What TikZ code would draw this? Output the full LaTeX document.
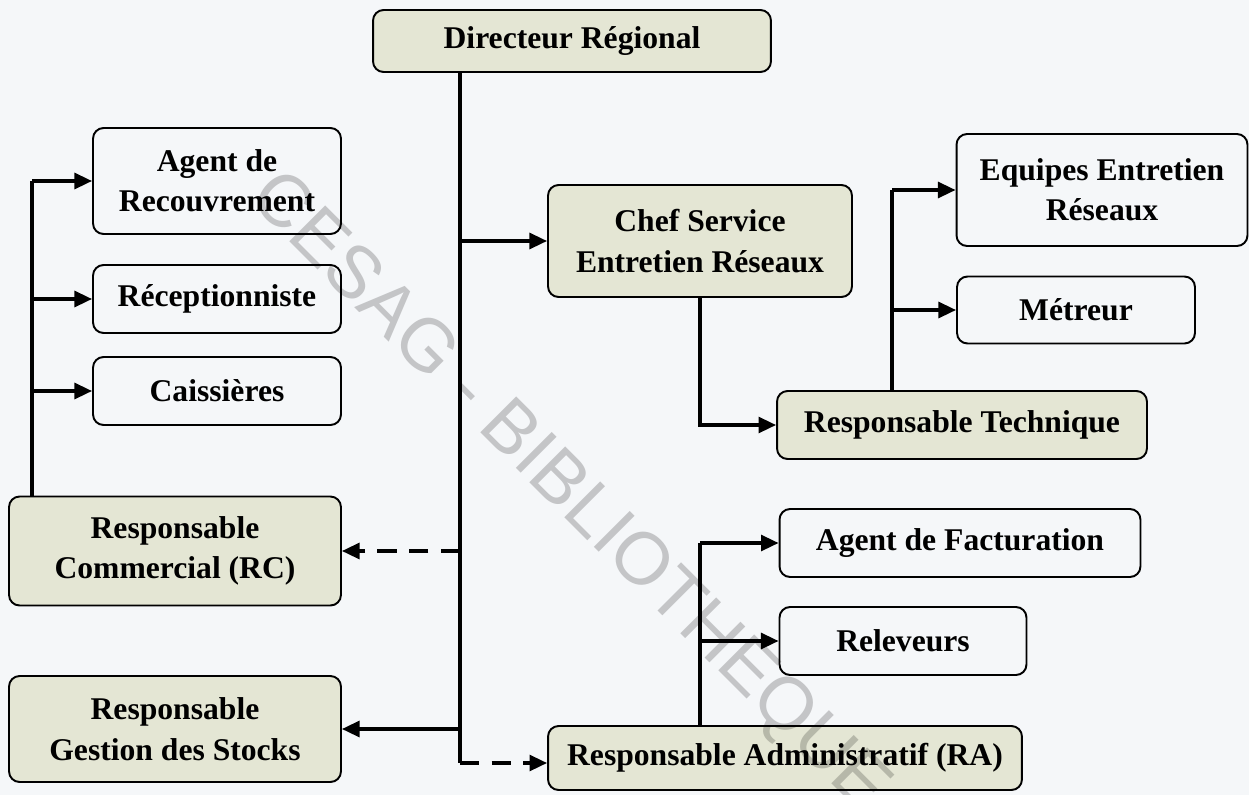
\documentclass[tikz,border=0pt]{standalone}
\usepackage{fontspec}
\setmainfont{Liberation Serif}
\setsansfont{Liberation Sans}
\usetikzlibrary{calc, arrows.meta}

\definecolor{boxfill}{RGB}{228,230,212}
\definecolor{paper}{RGB}{245,247,249}
\definecolor{wmark}{RGB}{204,204,204}

\tikzset{
  poste/.style={draw, rounded corners=6pt, line width=1.1pt, align=center,
    font=\fontsize{18}{23}\selectfont\bfseries, inner sep=2pt},
  chef/.style={poste, fill=boxfill},
  agent/.style={poste},
  lien/.style={line width=1.9pt},
  fleche/.style={lien, -{Triangle[length=10pt, width=9pt]}},
  pointille/.style={fleche, dash pattern=on 11pt off 7pt},
}

\begin{document}
\begin{tikzpicture}[x=0.02cm, y=-0.02cm]
  \fill[paper] (0,0) rectangle (1249,795);
  \useasboundingbox (0,0) rectangle (1249,795);

  % direction et responsables
  \node[chef, minimum width=7.96cm, minimum height=1.24cm] (dr) at (572,41) {Directeur Régional};
  \node[chef, minimum width=6.08cm, minimum height=2.24cm] (cser) at (700,241) {Chef Service\\Entretien Réseaux};
  \node[chef, minimum width=6.64cm, minimum height=2.18cm] (rc) at (175,551) {Responsable\\Commercial (RC)};
  \node[chef, minimum width=6.64cm, minimum height=2.12cm] (rgs) at (175,729) {Responsable\\Gestion des Stocks};
  \node[chef, minimum width=7.40cm, minimum height=1.36cm] (rt) at (962,425) {Responsable Technique};
  \node[chef, minimum width=9.48cm, minimum height=1.28cm] (ra) at (785,758) {Responsable Administratif (RA)};

  % agents
  \node[agent, minimum width=4.96cm, minimum height=2.12cm] (recouv) at (217,181) {Agent de\\Recouvrement};
  \node[agent, minimum width=4.96cm, minimum height=1.36cm] (recep) at (217,299) {Réceptionniste};
  \node[agent, minimum width=4.96cm, minimum height=1.36cm] (caiss) at (217,391) {Caissières};
  \node[agent, minimum width=5.82cm, minimum height=2.24cm] (equip) at (1102,190) {Equipes Entretien\\Réseaux};
  \node[agent, minimum width=4.76cm, minimum height=1.34cm] (metreur) at (1076,310) {Métreur};
  \node[agent, minimum width=7.22cm, minimum height=1.36cm] (factu) at (960,543) {Agent de Facturation};
  \node[agent, minimum width=4.94cm, minimum height=1.36cm] (relev) at (903,641) {Releveurs};

  \coordinate (T) at (460,763);
  \coordinate (L) at (32,0);
  \coordinate (M) at (892,0);
  \coordinate (N) at (700,0);

  % tronc du directeur
  \draw[lien] (T |- dr.south) -- (T);
  \draw[pointille] (T) -- (T -| ra.west);
  \draw[fleche] (T |- cser.west) -- (cser.west);
  \draw[pointille] (T |- rc.east) -- (rc.east);
  \draw[fleche] (T |- rgs.east) -- (rgs.east);

  % service commercial
  \draw[lien] (L |- rc.north) -- (L |- recouv.west);
  \draw[fleche] (L |- recouv.west) -- (recouv.west);
  \draw[fleche] (L |- recep.west) -- (recep.west);
  \draw[fleche] (L |- caiss.west) -- (caiss.west);

  % service technique
  \draw[fleche] (cser.south) |- (rt.west);
  \draw[lien] (M |- rt.north) -- (M |- equip.west);
  \draw[fleche] (M |- equip.west) -- (equip.west);
  \draw[fleche] (M |- metreur.west) -- (metreur.west);

  % service administratif
  \draw[lien] (N |- ra.north) -- (N |- factu.west);
  \draw[fleche] (N |- factu.west) -- (factu.west);
  \draw[fleche] (N |- relev.west) -- (relev.west);

  \begin{scope}[blend mode=multiply]
    \node[rotate=-45, text=wmark, font=\fontsize{42}{46}\selectfont\sffamily] (filigrane) at (568,494) {CESAG - BIBLIOTHEQUE};
  \end{scope}
\end{tikzpicture}
\end{document}
